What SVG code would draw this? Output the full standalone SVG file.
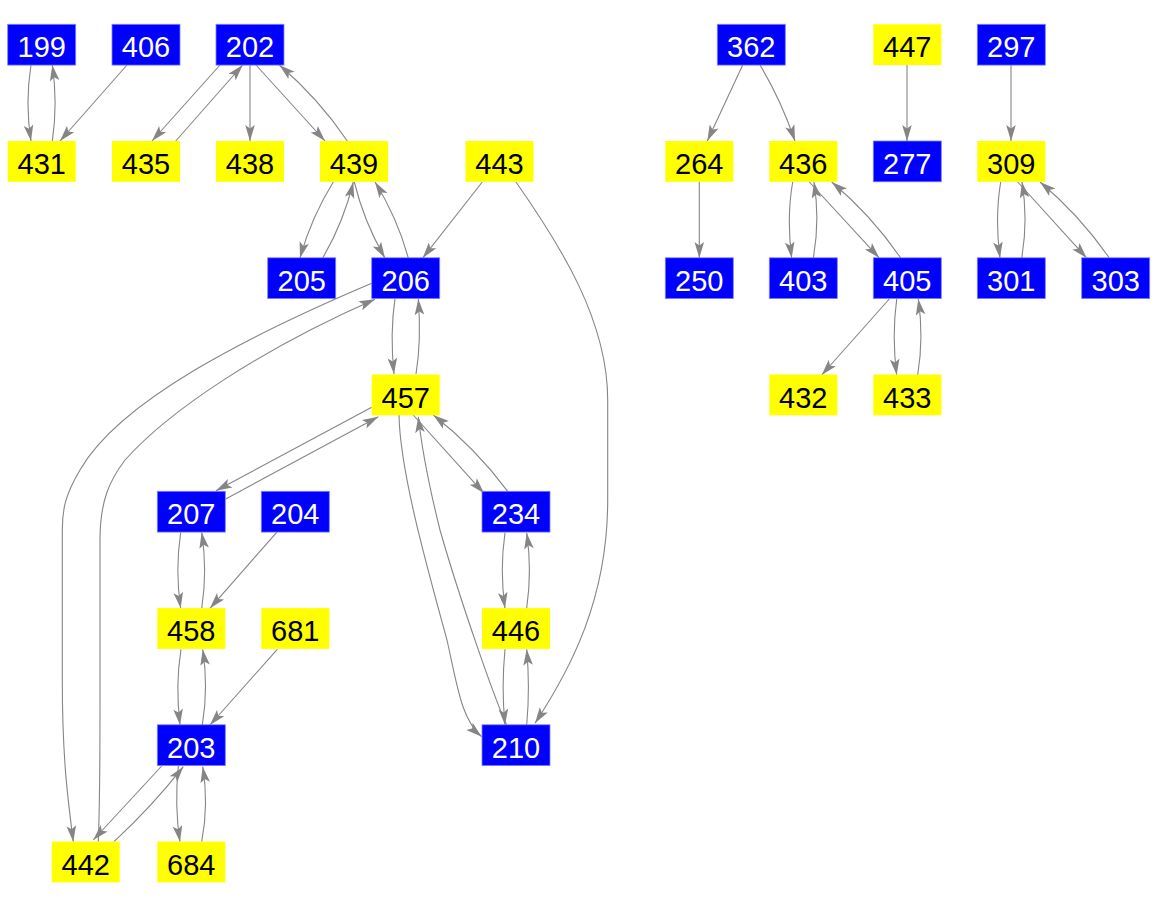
<svg xmlns="http://www.w3.org/2000/svg" width="1158" height="908" viewBox="0 0 1158 908">
<style>
.b rect{fill:#0000ff;stroke:#7f7fff;stroke-width:0.8}
.y rect{fill:#ffff00}
text{font-family:"Liberation Sans",Arial,sans-serif;font-size:29px;text-anchor:middle}
.b text{fill:#ffffff}
.y text{fill:#000000}
#edges path{fill:none;stroke:#858585;stroke-width:1.1;marker-end:url(#ah)}
</style>
<defs>
<marker id="ah" markerUnits="userSpaceOnUse" orient="auto" refX="0" refY="0" markerWidth="20" markerHeight="12" overflow="visible">
<path d="M0,0 L-16,-4.8 L-12.5,0 L-16,4.8 Z" fill="#858585" stroke="none"/>
</marker>
</defs>
<rect width="1158" height="908" fill="#ffffff"/>
<g id="edges">
<path d="M31,65 C27,90 27,116 31,141"/>
<path d="M52.3,141 C56,116 56,90 52.3,65"/>
<path d="M127,65 L60,141"/>
<path d="M220,65 L152,141"/>
<path d="M175.7,141 L242.7,65"/>
<path d="M250,65 L250,141"/>
<path d="M256,65 L325,141"/>
<path d="M347.3,141 Q318.5,98.3 279.3,65"/>
<path d="M333.3,182 Q311.2,217.6 300,258"/>
<path d="M322.7,258 Q343.6,222.2 353.3,182"/>
<path d="M354.3,182 Q364.1,222.2 385,258"/>
<path d="M408.3,258 Q397.2,217.6 375,182"/>
<path d="M482.3,182 L422.7,258"/>
<path d="M516,182 C560,245 607.7,320 607.7,400 L607.7,500 C607.7,600 570,670 535,723.3"/>
<path d="M371.7,283.3 C250,335 120,400 80,470 C65,495 62.3,510 62.3,530 L62.3,680 C62.3,760 68,800 73.3,841.7"/>
<path d="M98.3,841.7 C100,800 100,740 100,700 L100,540 C100,500 110,480 125,460 C170,410 260,350 375,299.3"/>
<path d="M395,298.3 C391.5,322 391.5,350 394,374"/>
<path d="M416,374 C420,350 420,322 418.3,299"/>
<path d="M371.7,407.3 L216,490.7"/>
<path d="M225.7,499 L378.3,416.7"/>
<path d="M413.3,415 L484,493.3"/>
<path d="M507.7,491.3 Q475.5,448.1 433.3,415"/>
<path d="M399,415 C400,470 425,560 447,640 C458,690 462,720 481.7,736.7"/>
<path d="M506.7,725 C495,700 460,600 440,530 C430,490 422,450 418.3,416.7"/>
<path d="M505,532.7 C501.5,557 501.5,584 505,608.3"/>
<path d="M526.7,608 C530.2,584 530.2,557 526.7,533"/>
<path d="M505,649.3 C502.5,675 502.5,700 505,725"/>
<path d="M526.7,725 C529,700 529,675 526.7,649.3"/>
<path d="M180.7,532.3 C177,557 177,584 180.7,608.3"/>
<path d="M201.7,608.3 C205.5,584 205.5,557 201.7,532.3"/>
<path d="M276.7,532.3 L210,608.3"/>
<path d="M181,649.3 C177,674 177,700 180,725"/>
<path d="M202.3,725 C206.5,700 206.5,674 202.7,649.3"/>
<path d="M277.3,649.3 L210,725"/>
<path d="M161.7,766 L93.3,840"/>
<path d="M114,841.7 Q151.6,807 183.3,766.7"/>
<path d="M178.3,766 C176,790 176,817 180,841.7"/>
<path d="M201.7,841.7 C206.5,817 206.5,790 202.7,766.7"/>
<path d="M742.7,65 L707.3,141"/>
<path d="M760,65 Q781,100 795,141"/>
<path d="M907,65 L907,141"/>
<path d="M1011,65 L1011,141"/>
<path d="M699.3,182 L699.3,258"/>
<path d="M792.7,182 C788.5,206 788.5,233 791.7,258"/>
<path d="M813.3,258 C817.8,233 817.8,206 814,182"/>
<path d="M809.3,182 L879.3,258"/>
<path d="M900.7,258 Q871.4,215.3 831.7,182"/>
<path d="M889.3,299 L821.7,375"/>
<path d="M896.7,299 C893.5,323 893.5,350 896.7,375"/>
<path d="M917.7,375 C921.8,350 921.8,323 918.3,299"/>
<path d="M1000.7,182 C996.7,206 996.7,233 1000,258"/>
<path d="M1021.7,258 C1026,233 1026,206 1022,182"/>
<path d="M1017.7,182 L1086.7,258"/>
<path d="M1109.3,258 Q1079.8,215.3 1040,182"/>
</g>
<g id="n199" class="b"><rect x="7.7" y="24.3" width="68" height="40.8"/><text x="41.7" y="57.3">199</text></g>
<g id="n406" class="b"><rect x="112" y="24.3" width="68" height="40.8"/><text x="146" y="57.3">406</text></g>
<g id="n202" class="b"><rect x="216" y="24.3" width="68" height="40.8"/><text x="250" y="57.3">202</text></g>
<g id="n362" class="b"><rect x="717.3" y="24.3" width="68" height="40.8"/><text x="751.3" y="57.3">362</text></g>
<g id="n447" class="y"><rect x="873.3" y="24.3" width="68" height="40.8"/><text x="907.3" y="57.3">447</text></g>
<g id="n297" class="b"><rect x="977.3" y="24.3" width="68" height="40.8"/><text x="1011.3" y="57.3">297</text></g>
<g id="n431" class="y"><rect x="7.7" y="141" width="68" height="40.8"/><text x="41.7" y="174">431</text></g>
<g id="n435" class="y"><rect x="112" y="141" width="68" height="40.8"/><text x="146" y="174">435</text></g>
<g id="n438" class="y"><rect x="216" y="141" width="68" height="40.8"/><text x="250" y="174">438</text></g>
<g id="n439" class="y"><rect x="320" y="141" width="68" height="40.8"/><text x="354" y="174">439</text></g>
<g id="n443" class="y"><rect x="465.5" y="141" width="68" height="40.8"/><text x="499.5" y="174">443</text></g>
<g id="n264" class="y"><rect x="665.3" y="141" width="68" height="40.8"/><text x="699.3" y="174">264</text></g>
<g id="n436" class="y"><rect x="769.3" y="141" width="68" height="40.8"/><text x="803.3" y="174">436</text></g>
<g id="n277" class="b"><rect x="873.3" y="141" width="68" height="40.8"/><text x="907.3" y="174">277</text></g>
<g id="n309" class="y"><rect x="977.3" y="141" width="68" height="40.8"/><text x="1011.3" y="174">309</text></g>
<g id="n205" class="b"><rect x="267.7" y="257.8" width="68" height="40.8"/><text x="301.7" y="290.8">205</text></g>
<g id="n206" class="b"><rect x="371.7" y="257.8" width="68" height="40.8"/><text x="405.7" y="290.8">206</text></g>
<g id="n250" class="b"><rect x="665.3" y="257.8" width="68" height="40.8"/><text x="699.3" y="290.8">250</text></g>
<g id="n403" class="b"><rect x="769.3" y="257.8" width="68" height="40.8"/><text x="803.3" y="290.8">403</text></g>
<g id="n405" class="b"><rect x="873.3" y="257.8" width="68" height="40.8"/><text x="907.3" y="290.8">405</text></g>
<g id="n301" class="b"><rect x="977.3" y="257.8" width="68" height="40.8"/><text x="1011.3" y="290.8">301</text></g>
<g id="n303" class="b"><rect x="1081.7" y="257.8" width="68" height="40.8"/><text x="1115.7" y="290.8">303</text></g>
<g id="n457" class="y"><rect x="371.7" y="374.5" width="68" height="40.8"/><text x="405.7" y="407.5">457</text></g>
<g id="n432" class="y"><rect x="769.3" y="374.5" width="68" height="40.8"/><text x="803.3" y="407.5">432</text></g>
<g id="n433" class="y"><rect x="873.3" y="374.5" width="68" height="40.8"/><text x="907.3" y="407.5">433</text></g>
<g id="n207" class="b"><rect x="157.3" y="491.3" width="68" height="40.8"/><text x="191.3" y="524.3">207</text></g>
<g id="n204" class="b"><rect x="261.3" y="491.3" width="68" height="40.8"/><text x="295.3" y="524.3">204</text></g>
<g id="n234" class="b"><rect x="482" y="491.3" width="68" height="40.8"/><text x="516" y="524.3">234</text></g>
<g id="n458" class="y"><rect x="157.3" y="608.1" width="68" height="40.8"/><text x="191.3" y="641.1">458</text></g>
<g id="n681" class="y"><rect x="261.3" y="608.1" width="68" height="40.8"/><text x="295.3" y="641.1">681</text></g>
<g id="n446" class="y"><rect x="482" y="608.1" width="68" height="40.8"/><text x="516" y="641.1">446</text></g>
<g id="n203" class="b"><rect x="157.3" y="724.8" width="68" height="40.8"/><text x="191.3" y="757.8">203</text></g>
<g id="n210" class="b"><rect x="482" y="724.8" width="68" height="40.8"/><text x="516" y="757.8">210</text></g>
<g id="n442" class="y"><rect x="51.7" y="841.6" width="68" height="40.8"/><text x="85.7" y="874.6">442</text></g>
<g id="n684" class="y"><rect x="157.3" y="841.6" width="68" height="40.8"/><text x="191.3" y="874.6">684</text></g>
</svg>
